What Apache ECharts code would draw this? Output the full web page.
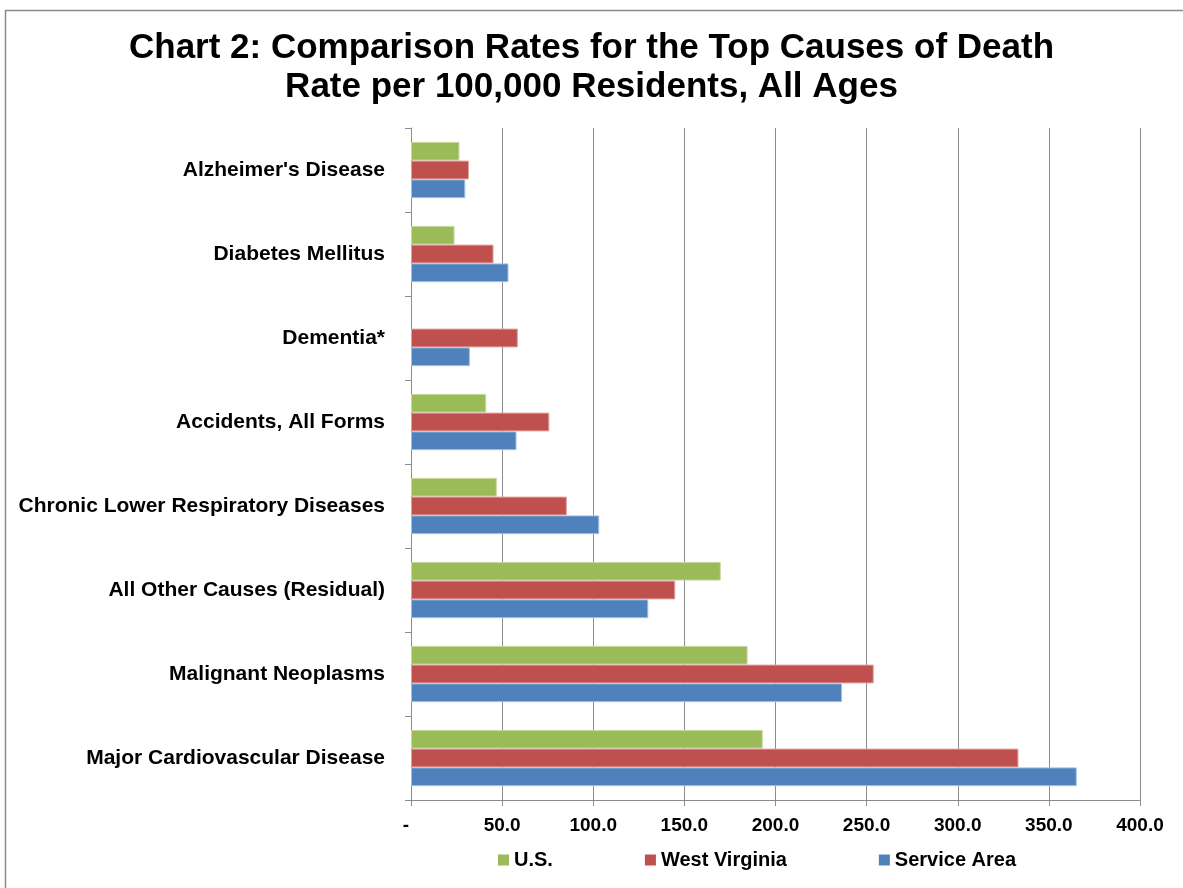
<!DOCTYPE html>
<html>
<head>
<meta charset="utf-8">
<script src="https://cdn.jsdelivr.net/npm/echarts@6/dist/echarts.min.js"></script>
<style>
  html, body { margin: 0; padding: 0; background: #fff; }
  #chart2 { width: 1183px; height: 888px; }
</style>
</head>
<body>
<div id="chart2"></div>
<script>
// causes, bottom to top as ECharts draws a category y axis
var causes = ['Major Cardiovascular Disease', 'Malignant Neoplasms', 'All Other Causes (Residual)',
  'Chronic Lower Respiratory Diseases', 'Accidents, All Forms', 'Dementia*',
  'Diabetes Mellitus', "Alzheimer's Disease"];

var usRates = [193.0, 184.7, 170.0, 47.1, 41.3, null, 23.9, 26.6];
var wvRates = [333.3, 253.9, 145.0, 85.5, 75.9, 58.6, 45.3, 31.8];
var serviceAreaRates = [365.3, 236.5, 130.2, 103.3, 57.9, 32.3, 53.5, 29.8];

var xTicks = [0, 50, 100, 150, 200, 250, 300, 350, 400];

var myChart2 = echarts.init(document.getElementById('chart2'));

var fnt = 'Liberation Sans, Arial, sans-serif';

option = {
  animation: false,
  textStyle: { fontFamily: fnt },
  title: {
    left: 'center',
    top: 24,
    text: 'Chart 2: Comparison Rates for the Top Causes of Death\nRate per 100,000 Residents, All Ages',
    textStyle: { color: '#000', fontSize: 35, fontWeight: 'bold', lineHeight: 39, fontFamily: fnt }
  },
  legend: {
    left: 493,
    top: 845,
    itemWidth: 11,
    itemHeight: 11,
    itemGap: 92,
    icon: 'rect',
    itemStyle: { borderWidth: 0 },
    textStyle: { color: '#000', fontSize: 20, fontWeight: 'bold', fontFamily: fnt },
    data: ['U.S.', 'West Virginia', 'Service Area']
  },
  graphic: [{
    type: 'rect',
    left: 3, top: 8,
    shape: { width: 1200, height: 900 },
    style: { fill: 'none', stroke: '#8a8a8a', lineWidth: 1.5 },
    silent: true
  }],
  grid: { left: 411, right: 43, top: 128, bottom: 88 },
  xAxis: {
    type: 'value',
    min: xTicks[0],
    max: xTicks[xTicks.length - 1],
    interval: 50,
    axisLine: { show: true, lineStyle: { color: '#8c8c8c' } },
    axisTick: { show: true, length: 6, lineStyle: { color: '#8c8c8c' } },
    splitLine: { show: true, lineStyle: { color: '#8c8c8c', width: 1 } },
    axisLabel: {
      color: '#000', fontSize: 19, fontWeight: 'bold', margin: 16,
      formatter: function (v) { return v === 0 ? '{dash|-}' : v.toFixed(1); },
      rich: { dash: { fontSize: 19, fontWeight: 'bold', color: '#000', padding: [0, 10, 0, 0] } }
    }
  },
  yAxis: {
    type: 'category',
    data: causes,
    axisLine: { show: true, lineStyle: { color: '#8c8c8c' } },
    axisTick: { show: true, length: 6, lineStyle: { color: '#8c8c8c' } },
    axisLabel: { color: '#000', fontSize: 21, fontWeight: 'bold', margin: 26 }
  },
  series: [
    {
      name: 'U.S.', type: 'bar', data: usRates,
      barGap: '0%', barCategoryGap: '33%',
      itemStyle: { color: '#9BBB59', borderColor: '#c9dba4', borderWidth: 1 }
    },
    {
      name: 'West Virginia', type: 'bar', data: wvRates,
      itemStyle: { color: '#C0504D', borderColor: '#e0a09e', borderWidth: 1 }
    },
    {
      name: 'Service Area', type: 'bar', data: serviceAreaRates,
      itemStyle: { color: '#4F81BD', borderColor: '#a4bfe0', borderWidth: 1 }
    }
  ]
};
myChart2.setOption(option);
</script>
</body>
</html>
